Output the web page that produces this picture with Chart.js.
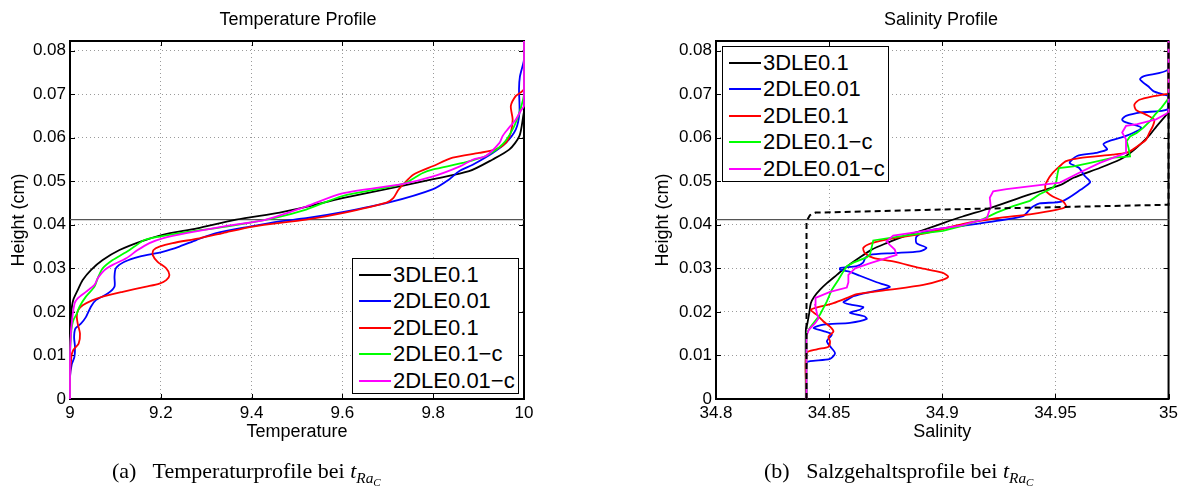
<!DOCTYPE html>
<html><head><meta charset="utf-8">
<script src="https://cdn.jsdelivr.net/npm/chart.js@4.4.1/dist/chart.umd.min.js"></script>
<style>
html,body{margin:0;padding:0;background:#fff;width:1182px;height:491px;overflow:hidden;position:relative;font-family:'Liberation Sans',Arial,sans-serif;color:#000;}
canvas{position:absolute;top:0;}
.title{position:absolute;top:9px;font-size:18px;line-height:21px;white-space:nowrap;transform:translateX(-50%);}
.cap{position:absolute;top:458px;font-family:'Liberation Serif','Times New Roman',serif;font-size:22px;line-height:26px;white-space:nowrap;}
.cap sub{font-size:70%;vertical-align:-0.35em;line-height:0;}
.cap sub sub{font-size:72%;vertical-align:-0.3em;}
.legend{position:absolute;background:#fff;border:1.5px solid #000;box-sizing:border-box;width:167px;height:136px;}
.row{position:absolute;left:0;width:100%;height:26px;}
.row .ln{position:absolute;left:6px;width:32px;top:12px;height:2px;}
.row .tx{position:absolute;left:40px;top:0;font-size:22px;line-height:26px;white-space:nowrap;}
</style>
</head><body>
<canvas id="c1" width="560" height="460" style="left:0px;width:560px;height:460px"></canvas>
<canvas id="c2" width="582" height="460" style="left:600px;width:582px;height:460px"></canvas>
<div class="title" style="left:298px">Temperature Profile</div>
<div class="title" style="left:941px">Salinity Profile</div>
<div class="cap" style="left:112px">(a)&nbsp;&nbsp; Temperaturprofile bei <i>t</i><sub><i>Ra</i><sub><i>C</i></sub></sub></div>
<div class="cap" style="left:764px">(b)&nbsp;&nbsp; Salzgehaltsprofile bei <i>t</i><sub><i>Ra</i><sub><i>C</i></sub></sub></div>
<div id="leg1" class="legend" style="left:352px;top:258px"></div>
<div id="leg2" class="legend" style="left:722px;top:46px"></div>
<script>
// ---------- labels ----------
const seriesNames = ['3DLE0.1', '2DLE0.01', '2DLE0.1', '2DLE0.1\u2212c', '2DLE0.01\u2212c'];
const seriesColors = ['#000000', '#0000ff', '#ff0000', '#00ff00', '#ff00ff'];

// ---------- ticks ----------
const heightTicks = [0, 0.01, 0.02, 0.03, 0.04, 0.05, 0.06, 0.07, 0.08];
const heightTickLabels = ['0', '0.01', '0.02', '0.03', '0.04', '0.05', '0.06', '0.07', '0.08'];
const tempTicks = [9, 9.2, 9.4, 9.6, 9.8, 10];
const tempTickLabels = ['9', '9.2', '9.4', '9.6', '9.8', '10'];
const salTicks = [34.8, 34.85, 34.9, 34.95, 35];
const salTickLabels = ['34.8', '34.85', '34.9', '34.95', '35'];
const heightMax = 0.0822;
const interfaceHeight = 0.0412;

// ---------- Temperature profile ----------
const tBlackT = [9.000, 9.000, 9.001, 9.003, 9.007, 9.017, 9.028, 9.046, 9.072, 9.109, 9.157, 9.204, 9.28, 9.366, 9.462, 9.52, 9.6, 9.734, 9.8, 9.879, 9.931, 9.968, 9.99, 9.999, 10.0, 10.0];
const tBlackH = [0, 0.010, 0.015, 0.020, 0.0227, 0.025, 0.0273, 0.0296, 0.0319, 0.0342, 0.0362, 0.0377, 0.0392, 0.0412, 0.0428, 0.0441, 0.0461, 0.0490, 0.0505, 0.0523, 0.055, 0.0573, 0.0604, 0.0654, 0.066, 0.0822];

const tBlueT = [9.0, 9.0, 9.004, 9.0096, 9.011, 9.009, 9.012, 9.024, 9.035, 9.046, 9.057, 9.083, 9.098, 9.098, 9.101, 9.12, 9.153, 9.204, 9.241, 9.278, 9.322, 9.396, 9.462, 9.52, 9.6, 9.705, 9.8, 9.835, 9.857, 9.887, 9.931, 9.96, 9.982, 9.99, 9.989, 9.991, 9.997, 10.0, 10.0];
const tBlueH = [0, 0.005, 0.008, 0.0096, 0.012, 0.0142, 0.0162, 0.0173, 0.0188, 0.0212, 0.0227, 0.0242, 0.0258, 0.0281, 0.030, 0.0315, 0.0327, 0.0338, 0.035, 0.0365, 0.0381, 0.0396, 0.0408, 0.0415, 0.0429, 0.0452, 0.0482, 0.0504, 0.0523, 0.0538, 0.0565, 0.0588, 0.0619, 0.0658, 0.0712, 0.074, 0.0765, 0.078, 0.0822];

const tRedT = [9.0, 9.0, 9.003, 9.007, 9.019, 9.022, 9.017, 9.015, 9.018, 9.028, 9.05, 9.072, 9.116, 9.168, 9.197, 9.212, 9.219, 9.212, 9.193, 9.182, 9.184, 9.197, 9.226, 9.285, 9.337, 9.403, 9.52, 9.6, 9.697, 9.712, 9.723, 9.734, 9.756, 9.8, 9.843, 9.901, 9.938, 9.96, 9.971, 9.975, 9.971, 9.982, 9.993, 10.0, 10.0];
const tRedH = [0, 0.005, 0.0096, 0.0112, 0.0127, 0.015, 0.0173, 0.019, 0.0204, 0.0215, 0.0227, 0.0235, 0.0246, 0.0258, 0.0265, 0.0273, 0.0285, 0.030, 0.0315, 0.0331, 0.0342, 0.035, 0.0358, 0.0369, 0.0381, 0.0396, 0.0412, 0.0427, 0.0451, 0.0461, 0.048, 0.0493, 0.0515, 0.0535, 0.0554, 0.0565, 0.0573, 0.0588, 0.0612, 0.0642, 0.0673, 0.0696, 0.0704, 0.0712, 0.0822];

const tGreenT = [9.0, 9.0, 9.003, 9.007, 9.015, 9.021, 9.035, 9.054, 9.061, 9.072, 9.094, 9.12, 9.142, 9.164, 9.197, 9.241, 9.344, 9.447, 9.52, 9.6, 9.734, 9.777, 9.8, 9.865, 9.916, 9.953, 9.975, 9.99, 9.998, 10.0, 10.0];
const tGreenH = [0, 0.010, 0.0158, 0.018, 0.0196, 0.0212, 0.0235, 0.0258, 0.0277, 0.030, 0.0319, 0.0335, 0.035, 0.0365, 0.0373, 0.0381, 0.0396, 0.0415, 0.0435, 0.0466, 0.0494, 0.0519, 0.0527, 0.0542, 0.0558, 0.0585, 0.0619, 0.0658, 0.0688, 0.070, 0.0822];

const tMagentaT = [9.0, 9.0, 9.003, 9.01, 9.017, 9.035, 9.054, 9.061, 9.076, 9.094, 9.124, 9.149, 9.175, 9.204, 9.256, 9.337, 9.432, 9.52, 9.6, 9.734, 9.8, 9.859, 9.888, 9.916, 9.946, 9.953, 9.964, 9.982, 9.993, 10.0, 10.0];
const tMagentaH = [0, 0.010, 0.0165, 0.0219, 0.0231, 0.0246, 0.0262, 0.0277, 0.0296, 0.0308, 0.0323, 0.0342, 0.0358, 0.0369, 0.0381, 0.0396, 0.0412, 0.0442, 0.0472, 0.0494, 0.0511, 0.0534, 0.055, 0.0558, 0.0588, 0.0604, 0.0619, 0.0642, 0.0662, 0.0673, 0.0822];

// ---------- Salinity profile ----------
const sBlackS = [34.8397, 34.8397, 34.8404, 34.8412, 34.8419, 34.8434, 34.846, 34.849, 34.8534, 34.8578, 34.863, 34.8688, 34.8754, 34.8828, 34.8916, 34.9004, 34.909, 34.921, 34.9387, 34.952, 34.958, 34.9698, 34.9786, 34.9826, 34.9874, 34.9918, 34.9947, 34.9991, 35.0, 35.0];
const sBlackH = [0, 0.0159, 0.0174, 0.0197, 0.022, 0.0235, 0.0251, 0.0266, 0.0285, 0.0304, 0.0323, 0.0343, 0.0358, 0.0373, 0.0388, 0.0404, 0.0419, 0.0438, 0.047, 0.0491, 0.0508, 0.0531, 0.055, 0.0563, 0.0584, 0.0607, 0.0626, 0.0653, 0.066, 0.0822];

const sBlueS = [34.84, 34.84, 34.8416, 34.8504, 34.8526, 34.8504, 34.849, 34.8512, 34.8475, 34.8431, 34.8475, 34.8592, 34.8666, 34.8655, 34.8592, 34.8636, 34.8651, 34.8592, 34.8563, 34.8585, 34.8607, 34.8648, 34.8768, 34.871, 34.8636, 34.8592, 34.8548, 34.8549, 34.8622, 34.865, 34.866, 34.868, 34.8783, 34.89, 34.893, 34.8886, 34.8886, 34.893, 34.9003, 34.912, 34.924, 34.9357, 34.9388, 34.9401, 34.943, 34.953, 34.9613, 34.9654, 34.963, 34.9604, 34.9563, 34.9596, 34.9679, 34.9729, 34.9712, 34.9737, 34.9812, 34.9879, 34.9812, 34.9795, 34.9812, 34.9879, 34.9995, 35.0, 34.9977, 34.9933, 34.991, 34.9874, 34.9889, 34.9999, 35.0];
const sBlueH = [0, 0.0082, 0.0087, 0.0092, 0.0105, 0.0121, 0.0133, 0.0148, 0.0156, 0.0163, 0.0171, 0.0175, 0.0184, 0.019, 0.0198, 0.0205, 0.0211, 0.0217, 0.0222, 0.0229, 0.0236, 0.0242, 0.0257, 0.0268, 0.0283, 0.0292, 0.0297, 0.0301, 0.0305, 0.0313, 0.0324, 0.0331, 0.0335, 0.0339, 0.0347, 0.0358, 0.0373, 0.0385, 0.0392, 0.040, 0.0409, 0.042, 0.0436, 0.0442, 0.0449, 0.0454, 0.0481, 0.0498, 0.0512, 0.0531, 0.0542, 0.0558, 0.0565, 0.0573, 0.0585, 0.0592, 0.0604, 0.0623, 0.0635, 0.0642, 0.065, 0.0658, 0.0665, 0.0695, 0.0699, 0.0707, 0.0718, 0.0734, 0.0741, 0.0757, 0.0822];

const sRedS = [34.84, 34.84, 34.8446, 34.8497, 34.8504, 34.8497, 34.8519, 34.8504, 34.8475, 34.8446, 34.8419, 34.8475, 34.8519, 34.8593, 34.8622, 34.8769, 34.8916, 34.9004, 34.9026, 34.9, 34.89, 34.8783, 34.8695, 34.8658, 34.8651, 34.8688, 34.8783, 34.893, 34.9093, 34.924, 34.9387, 34.9503, 34.9547, 34.9533, 34.9488, 34.9459, 34.9455, 34.9466, 34.9488, 34.9518, 34.9547, 34.9606, 34.9753, 34.9812, 34.984, 34.9875, 34.99, 34.9915, 34.993, 34.9937, 34.99, 34.9856, 34.9849, 34.9871, 34.993, 34.9988, 35.0, 35.0];
const sRedH = [0, 0.0105, 0.0114, 0.012, 0.0132, 0.0143, 0.0155, 0.0166, 0.0178, 0.0193, 0.0205, 0.0214, 0.022, 0.0235, 0.0241, 0.0251, 0.0262, 0.0274, 0.0281, 0.029, 0.0301, 0.0316, 0.0324, 0.0335, 0.0347, 0.0358, 0.0369, 0.0381, 0.0402, 0.0415, 0.0424, 0.0434, 0.0442, 0.0454, 0.0465, 0.0477, 0.049, 0.0503, 0.0519, 0.0534, 0.0546, 0.0553, 0.0561, 0.0565, 0.0572, 0.0585, 0.0595, 0.0611, 0.0626, 0.0641, 0.0653, 0.0664, 0.0676, 0.0687, 0.0695, 0.070, 0.0702, 0.0822];

const sGreenS = [34.84, 34.84, 34.8416, 34.846, 34.849, 34.8512, 34.8541, 34.8563, 34.8578, 34.8607, 34.8666, 34.868, 34.8695, 34.8856, 34.9003, 34.9093, 34.918, 34.924, 34.9313, 34.9387, 34.943, 34.949, 34.9503, 34.951, 34.9515, 34.958, 34.9654, 34.9757, 34.983, 34.9823, 34.9815, 34.983, 34.9859, 34.9889, 34.9918, 34.994, 34.9969, 34.9991, 35.0, 35.0];
const sGreenH = [0, 0.015, 0.0164, 0.0194, 0.0224, 0.0251, 0.0274, 0.0293, 0.0305, 0.0313, 0.0325, 0.0331, 0.0364, 0.0377, 0.0386, 0.0398, 0.0413, 0.0428, 0.0443, 0.0455, 0.047, 0.0485, 0.0496, 0.0519, 0.053, 0.0534, 0.0542, 0.0554, 0.0557, 0.0577, 0.0592, 0.0603, 0.0611, 0.0623, 0.0638, 0.0653, 0.0669, 0.0684, 0.0692, 0.0822];

const sMagentaS = [34.84, 34.84, 34.841, 34.8438, 34.8453, 34.8446, 34.8438, 34.844, 34.8504, 34.8578, 34.8585, 34.8585, 34.8615, 34.8682, 34.8798, 34.879, 34.8768, 34.8754, 34.8783, 34.8948, 34.9081, 34.9197, 34.9214, 34.921, 34.9225, 34.9284, 34.952, 34.9603, 34.9696, 34.9812, 34.9812, 34.9795, 34.9812, 34.9862, 34.9945, 35.0, 35.0];
const sMagentaH = [0, 0.0145, 0.0159, 0.0174, 0.0185, 0.0197, 0.0216, 0.0232, 0.0246, 0.0256, 0.0268, 0.0285, 0.030, 0.0312, 0.0331, 0.0343, 0.0354, 0.0362, 0.0375, 0.0388, 0.0398, 0.0415, 0.0442, 0.0462, 0.0477, 0.0482, 0.0497, 0.0519, 0.0542, 0.0565, 0.0596, 0.0612, 0.0627, 0.0631, 0.0642, 0.0658, 0.0822];

// initial salinity profile (dashed)
const sInitS = [34.84, 34.84, 34.8415, 34.844, 34.9, 35.0, 35.0];
const sInitH = [0, 0.0408, 0.0422, 0.0428, 0.0435, 0.0446, 0.0822];

// ---------- build ----------
const FONT = "'Liberation Sans', Arial, sans-serif";
function pts(xs, ys){ return xs.map((v,i)=>({x:v, y:ys[i]})); }
function lineDs(xs, ys, color, order, extra){
  return Object.assign({data: pts(xs, ys), borderColor: color, backgroundColor: color, borderWidth: 1.8,
    showLine: true, pointRadius: 0, pointHoverRadius: 0, tension: 0.25, order: order, clip: 4, fill: false}, extra || {});
}

const frameTicks = {
  id: 'frameTicks',
  beforeDatasetsDraw(chart){
    const {ctx, chartArea: a, scales: {x, y}} = chart;
    ctx.save();
    ctx.strokeStyle = '#000'; ctx.lineWidth = 1;
    const L = 5;
    ctx.beginPath();
    x.ticks.forEach(t => { const p = Math.round(x.getPixelForValue(t.value)) + 0.5;
      ctx.moveTo(p, a.bottom); ctx.lineTo(p, a.bottom - L); ctx.moveTo(p, a.top); ctx.lineTo(p, a.top + L); });
    y.ticks.forEach(t => { const p = Math.round(y.getPixelForValue(t.value)) + 0.5;
      ctx.moveTo(a.left, p); ctx.lineTo(a.left + L, p); ctx.moveTo(a.right, p); ctx.lineTo(a.right - L, p); });
    ctx.stroke();
    ctx.lineWidth = 2;
    ctx.strokeRect(a.left, a.top, a.right - a.left, a.bottom - a.top);
    ctx.restore();
  }
};

function makeChart(id, cfg){
  return new Chart(document.getElementById(id), {
    type: 'scatter',
    data: {datasets: cfg.datasets},
    plugins: [frameTicks],
    options: {
      responsive: false, animation: false, devicePixelRatio: 1,
      layout: {padding: {left: 0, top: 41, right: cfg.padRight, bottom: 11}},
      plugins: {legend: {display: false}, tooltip: {enabled: false}, title: {display: false}},
      scales: {
        x: {type: 'linear', min: cfg.xMin, max: cfg.xMax,
          afterBuildTicks: s => { s.ticks = cfg.xTicks.map(v => ({value: v})); },
          afterFit: s => { s.height = 50; },
          ticks: {callback: (v, i) => cfg.xLabels[i], font: {size: 17, family: FONT}, color: '#000', padding: 4, autoSkip: false, maxRotation: 0},
          grid: {color: '#9a9a9a', lineWidth: 1, drawTicks: false},
          border: {display: false, dash: [1, 3]},
          title: {display: true, text: cfg.xTitle, color: '#000', font: {size: 18, family: FONT}, padding: {top: 0, bottom: 6}}
        },
        y: {type: 'linear', min: 0, max: heightMax,
          afterBuildTicks: s => { s.ticks = heightTicks.map(v => ({value: v})); },
          afterFit: s => { s.width = cfg.yWidth; },
          ticks: {callback: (v, i) => heightTickLabels[i], font: {size: 17, family: FONT}, color: '#000', padding: 4, autoSkip: false},
          grid: {color: '#9a9a9a', lineWidth: 1, drawTicks: false},
          border: {display: false, dash: [1, 3]},
          title: {display: true, text: 'Height (cm)', color: '#000', font: {size: 18, family: FONT}, padding: {top: cfg.yTitlePad, bottom: 0}}
        }
      }
    }
  });
}

const tData = [[tBlackT, tBlackH], [tBlueT, tBlueH], [tRedT, tRedH], [tGreenT, tGreenH], [tMagentaT, tMagentaH]];
const sData = [[sBlackS, sBlackH], [sBlueS, sBlueH], [sRedS, sRedH], [sGreenS, sGreenH], [sMagentaS, sMagentaH]];

const tSets = tData.map((d, i) => lineDs(d[0], d[1], seriesColors[i], 6 - i));
tSets.push(lineDs([9, 10], [interfaceHeight, interfaceHeight], '#555555', 7, {borderWidth: 1.2, tension: 0}));
makeChart('c1', {datasets: tSets, padRight: 36, xMin: 9, xMax: 10, xTicks: tempTicks, xLabels: tempTickLabels,
  xTitle: 'Temperature', yWidth: 70, yTitlePad: 8});

const sSets = sData.map((d, i) => lineDs(d[0], d[1], seriesColors[i], 6 - i, {tension: i === 3 || i === 4 ? 0 : 0.25}));
sSets.push(lineDs([34.8, 35], [interfaceHeight, interfaceHeight], '#555555', 7, {borderWidth: 1.2, tension: 0}));
sSets.push(lineDs(sInitS, sInitH, '#000000', 0, {borderDash: [6, 4], borderWidth: 2, tension: 0}));
makeChart('c2', {datasets: sSets, padRight: 13, xMin: 34.8, xMax: 35, xTicks: salTicks, xLabels: salTickLabels,
  xTitle: 'Salinity', yWidth: 116, yTitlePad: 52});

// ---------- legends ----------
function buildLegend(id){
  const box = document.getElementById(id);
  const rowTops = [3, 29, 56, 82, 109];
  seriesNames.forEach((name, i) => {
    const r = document.createElement('div'); r.className = 'row'; r.style.top = rowTops[i] + 'px';
    const ln = document.createElement('div'); ln.className = 'ln'; ln.style.background = seriesColors[i];
    const tx = document.createElement('div'); tx.className = 'tx'; tx.textContent = name;
    r.appendChild(ln); r.appendChild(tx); box.appendChild(r);
  });
}
buildLegend('leg1'); buildLegend('leg2');
</script>
</body></html>
